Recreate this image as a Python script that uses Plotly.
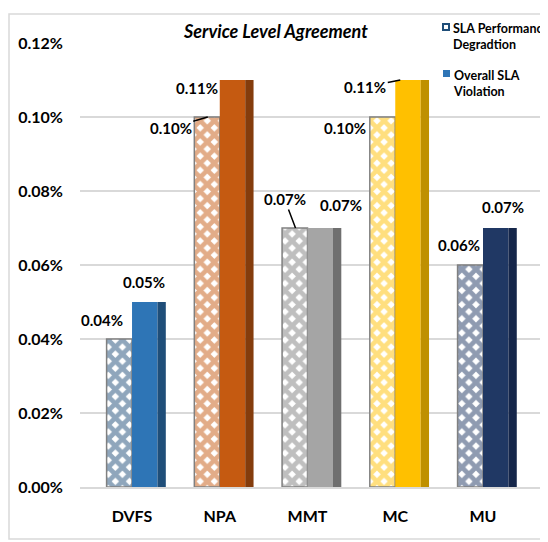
import plotly.graph_objects as go

# data (values are percentages)
methods = ['DVFS', 'NPA', 'MMT', 'MC', 'MU']
sla_perf_degradation = [0.04, 0.10, 0.07, 0.10, 0.06]
overall_sla_violation = [0.05, 0.11, 0.07, 0.11, 0.07]
ytick_vals = [0, 0.02, 0.04, 0.06, 0.08, 0.10, 0.12]
ytick_text = ['{:.2f}%'.format(v) for v in ytick_vals]
legend_names = ['SLA Performance<br>Degradtion', 'Overall SLA<br>Violation']

face_colors = ['#2E75B6', '#C55A11', '#A5A5A5', '#FFC000', '#203864']
side_colors = ['#1F4E79', '#843C0C', '#6F6F6F', '#BF9000', '#15264A']
pattern_colors = ['#1F4E79', '#C55A11', '#7F7F7F', '#FFC000', '#203864']

FONT = 'Lato'
W = 0.29      # bar width in category units
SIDE = 0.095  # darker side strip

# page body has an 8px margin, so the figure is 8px smaller than the window
FIG_W, FIG_H = 540, 534
ML, MR, MT, MB = 72, 2, 35, 55
PW, PH = FIG_W - ML - MR, FIG_H - MT - MB

def px(x):
	return (x - ML) / PW

def py(y):
	return (FIG_H - MB - y) / PH

fig = go.Figure()

# patterned bars (SLA performance degradation)
fig.add_trace(go.Bar(
	x=methods, y=sla_perf_degradation, name=legend_names[0],
	width=W, offset=-W, showlegend=False,
	marker=dict(
		color='white',
		line=dict(color='#808080', width=1.5),
		pattern=dict(shape='x', fgcolor=pattern_colors, bgcolor='white', size=10, solidity=0.72),
	),
))
# solid bars, front face
fig.add_trace(go.Bar(
	x=methods, y=overall_sla_violation, name=legend_names[1],
	width=W, offset=0, showlegend=False,
	marker=dict(color=face_colors, line=dict(width=0)),
))
# solid bars, darker side strip
fig.add_trace(go.Bar(
	x=methods, y=overall_sla_violation, showlegend=False,
	width=SIDE, offset=W,
	marker=dict(color=side_colors, line=dict(width=0)),
	hoverinfo='skip',
))

# data labels
lbl_font = dict(family=FONT, size=15, color='black', weight='bold')
def lbl(v):
	return '{:.2f}%'.format(v)

# (category, value, xshift, yshift, ax, ay) ; ax/ay None -> no leader line
labels = [
	('DVFS', sla_perf_degradation[0], -30, 19, None, None),
	('DVFS', overall_sla_violation[0], 12, 20, None, None),
	('NPA', overall_sla_violation[1], -23, -8, None, None),
	('NPA', sla_perf_degradation[1], -12, 0, -37, 11),
	('MMT', sla_perf_degradation[2], -12, 0, -11, -29),
	('MMT', overall_sla_violation[2], 33, 23, None, None),
	('MC', overall_sla_violation[3], 5, 0, -35, 7),
	('MC', sla_perf_degradation[3], -50, -11, None, None),
	('MU', sla_perf_degradation[4], -24, 20, None, None),
	('MU', overall_sla_violation[4], 20, 21, None, None),
]
for cat, v, xs, ys, ax, ay in labels:
	if ax is None:
		fig.add_annotation(x=cat, y=v, text=lbl(v), showarrow=False,
			xshift=xs, yshift=ys, font=lbl_font)
	else:
		fig.add_annotation(x=cat, y=v, text=lbl(v), showarrow=True,
			xshift=xs, ax=ax, ay=ay, arrowhead=0, arrowwidth=1.5,
			arrowcolor='black', font=lbl_font)

# title
fig.add_annotation(x=px(267), y=py(23), xref='paper', yref='paper',
	xanchor='center', yanchor='middle',
	text='<b><i>Service Level Agreement</i></b>', showarrow=False,
	font=dict(family=FONT, size=18, color='black'))

# hand-made legend (text + small keys), kept at the top right like the original
leg_font = dict(family=FONT, size=12.5, color='black', weight='bold')
fig.add_annotation(x=px(443), y=py(29), xref='paper', yref='paper',
	xanchor='left', yanchor='middle', align='left', showarrow=False,
	text=legend_names[0], font=leg_font)
fig.add_annotation(x=px(443), y=py(76), xref='paper', yref='paper',
	xanchor='left', yanchor='middle', align='left', showarrow=False,
	text=legend_names[1], font=leg_font)
fig.add_shape(type='rect', xref='paper', yref='paper',
	x0=px(435), x1=px(441), y0=py(22), y1=py(16),
	fillcolor='white', line=dict(color=pattern_colors[0], width=2))
fig.add_shape(type='rect', xref='paper', yref='paper',
	x0=px(435), x1=px(442), y0=py(69), y1=py(62),
	fillcolor=face_colors[0], line=dict(width=0))

# outer chart border
fig.add_shape(type='rect', xref='paper', yref='paper',
	x0=px(1), x1=px(560), y0=py(531), y1=py(6),
	line=dict(color='#D9D9D9', width=1.5), layer='below')

fig.update_layout(
	autosize=False,
	width=FIG_W,
	height=FIG_H,
	barmode='overlay',
	plot_bgcolor='white',
	paper_bgcolor='white',
	font=dict(family=FONT, color='black'),
	margin=go.layout.Margin(l=ML, r=MR, t=MT, b=MB),
	showlegend=False,
	xaxis=dict(
		range=[-0.593, 4.718],
		automargin=False,
		showline=True,
		linecolor='#D9D9D9',
		linewidth=1.5,
		showgrid=False,
		ticks='',
		ticklabelstandoff=14,
		tickfont=dict(family=FONT, size=16, weight='bold'),
	),
	yaxis=dict(
		range=[0, 0.12],
		automargin=False,
		tickvals=ytick_vals,
		ticktext=ytick_text,
		showgrid=True,
		gridcolor='#D9D9D9',
		gridwidth=1.5,
		zeroline=False,
		showline=False,
		ticks='',
		ticklabelstandoff=16,
		tickfont=dict(family=FONT, size=16, weight='bold'),
	),
)

fig.write_html('out.html')
